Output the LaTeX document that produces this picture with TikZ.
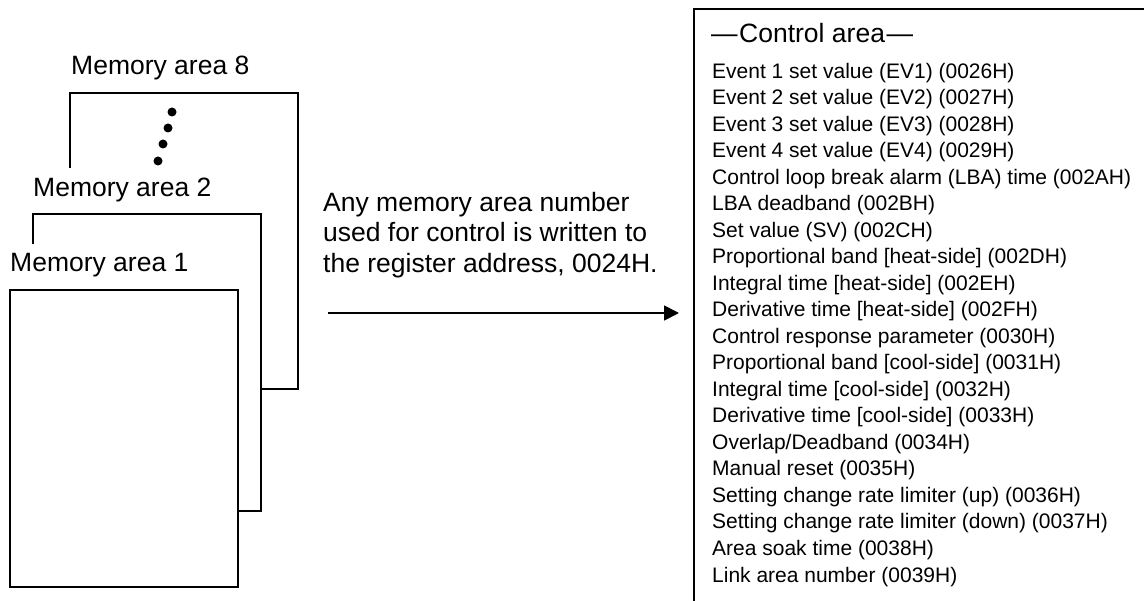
\documentclass[tikz,border=0pt]{standalone}
\usepackage{fontspec}
\setmainfont{Liberation Sans}
\usetikzlibrary{arrows.meta}

\begin{document}
\begin{tikzpicture}[x=1pt, y=-1pt,
    sheet/.style={line width=2.9pt, line join=miter},
    biglabel/.style={font=\fontsize{26.5}{30.5}\selectfont, inner sep=0pt},
    listitem/.style={font=\fontsize{21}{26.5}\selectfont, inner sep=0pt, anchor=base west}]

    \useasboundingbox (0,0) rectangle (1144,601);
    \clip (0,0) rectangle (1144,601);

    % --- 1. Stacked memory areas (back to front) ---
    \draw[sheet] (70,168) -- (70,93) -- (298,93) -- (298,389) -- (261,389);
    \draw[sheet] (33,244) -- (33,214) -- (261,214) -- (261,511) -- (238,511);
    \draw[sheet, fill=white] (10,290) rectangle (238,587);

    \node[biglabel, anchor=base west] (mem8) at (71,74.5) {Memory area 8};
    \node[biglabel, anchor=base west] (mem2) at (33,196.5) {Memory area 2};
    \node[biglabel, anchor=base west] (mem1) at (10,271.5) {Memory area 1};

    % dots for the areas in between
    \foreach \dx/\dy in {172/112, 168/128, 163/144, 158/161}
        \fill (\dx,\dy) circle (4.5pt);

    % --- 2. Note and arrow ---
    \node[biglabel, anchor=west, align=left] (note) at (323,235)
        {Any memory area number\\used for control is written to\\the register address, 0024H.};

    \coordinate (arrowtail) at (328,313);
    \coordinate (arrowhead) at (679,313);
    \draw[line width=1.8pt, -{Triangle[length=15pt, width=15pt]}] (arrowtail) -- (arrowhead);

    % --- 3. Control area (box runs past the page edge) ---
    \draw[sheet] (694,610) -- (694,9) -- (1150,9);
    \node[biglabel, anchor=base west] (ctrltitle) at (711,42.5) {—\kern1.5pt Control area\kern1.5pt —};

    \foreach \txt [count=\k] in {
        Event 1 set value (EV1) (0026H),
        Event 2 set value (EV2) (0027H),
        Event 3 set value (EV3) (0028H),
        Event 4 set value (EV4) (0029H),
        Control loop break alarm (LBA) time (002AH),
        LBA deadband (002BH),
        Set value (SV) (002CH),
        Proportional band [heat-side] (002DH),
        Integral time [heat-side] (002EH),
        Derivative time [heat-side] (002FH),
        Control response parameter (0030H),
        Proportional band [cool-side] (0031H),
        Integral time [cool-side] (0032H),
        Derivative time [cool-side] (0033H),
        Overlap/Deadband (0034H),
        Manual reset (0035H),
        Setting change rate limiter (up) (0036H),
        Setting change rate limiter (down) (0037H),
        Area soak time (0038H),
        Link area number (0039H)}
        \node[listitem] (item\k) at (712,{78.5+(\k-1)*26.5}) {\txt};

\end{tikzpicture}
\end{document}
